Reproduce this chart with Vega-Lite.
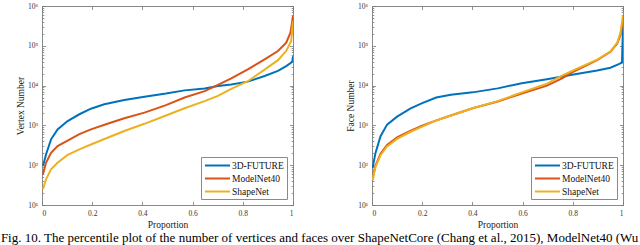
{
  "$schema": "https://vega.github.io/schema/vega-lite/v6.json",
  "background": "white",
  "padding": {"left": 0, "top": 1, "right": 0, "bottom": 0},
  "datasets": {
    "vertex": [
      {"p": 0.004, "v": 95, "s": "3D-FUTURE"}, {"p": 0.016, "v": 186, "s": "3D-FUTURE"}, {"p": 0.036, "v": 447, "s": "3D-FUTURE"}, {"p": 0.062, "v": 794, "s": "3D-FUTURE"}, {"p": 0.102, "v": 1288, "s": "3D-FUTURE"}, {"p": 0.149, "v": 1905, "s": "3D-FUTURE"}, {"p": 0.195, "v": 2630, "s": "3D-FUTURE"}, {"p": 0.248, "v": 3388, "s": "3D-FUTURE"}, {"p": 0.328, "v": 4365, "s": "3D-FUTURE"}, {"p": 0.408, "v": 5248, "s": "3D-FUTURE"}, {"p": 0.494, "v": 6310, "s": "3D-FUTURE"}, {"p": 0.568, "v": 7586, "s": "3D-FUTURE"}, {"p": 0.648, "v": 8511, "s": "3D-FUTURE"}, {"p": 0.701, "v": 9772, "s": "3D-FUTURE"}, {"p": 0.754, "v": 10715, "s": "3D-FUTURE"}, {"p": 0.82, "v": 12589, "s": "3D-FUTURE"}, {"p": 0.887, "v": 17378, "s": "3D-FUTURE"}, {"p": 0.94, "v": 23442, "s": "3D-FUTURE"}, {"p": 0.973, "v": 30903, "s": "3D-FUTURE"}, {"p": 0.993, "v": 38019, "s": "3D-FUTURE"}, {"p": 0.998, "v": 42000, "s": "3D-FUTURE"}, {"p": 1.0, "v": 54954, "s": "3D-FUTURE"},
      {"p": 0.004, "v": 59, "s": "ModelNet40"}, {"p": 0.016, "v": 115, "s": "ModelNet40"}, {"p": 0.036, "v": 204, "s": "ModelNet40"}, {"p": 0.062, "v": 302, "s": "ModelNet40"}, {"p": 0.102, "v": 417, "s": "ModelNet40"}, {"p": 0.149, "v": 603, "s": "ModelNet40"}, {"p": 0.195, "v": 794, "s": "ModelNet40"}, {"p": 0.261, "v": 1096, "s": "ModelNet40"}, {"p": 0.328, "v": 1514, "s": "ModelNet40"}, {"p": 0.408, "v": 2089, "s": "ModelNet40"}, {"p": 0.494, "v": 3236, "s": "ModelNet40"}, {"p": 0.568, "v": 5012, "s": "ModelNet40"}, {"p": 0.648, "v": 7244, "s": "ModelNet40"}, {"p": 0.701, "v": 10471, "s": "ModelNet40"}, {"p": 0.754, "v": 15136, "s": "ModelNet40"}, {"p": 0.82, "v": 25704, "s": "ModelNet40"}, {"p": 0.887, "v": 45709, "s": "ModelNet40"}, {"p": 0.94, "v": 74131, "s": "ModelNet40"}, {"p": 0.973, "v": 120226, "s": "ModelNet40"}, {"p": 0.99, "v": 213796, "s": "ModelNet40"}, {"p": 1.0, "v": 562341, "s": "ModelNet40"},
      {"p": 0.004, "v": 25, "s": "ShapeNet"}, {"p": 0.016, "v": 44, "s": "ShapeNet"}, {"p": 0.036, "v": 79, "s": "ShapeNet"}, {"p": 0.062, "v": 115, "s": "ShapeNet"}, {"p": 0.102, "v": 182, "s": "ShapeNet"}, {"p": 0.149, "v": 251, "s": "ShapeNet"}, {"p": 0.195, "v": 331, "s": "ShapeNet"}, {"p": 0.261, "v": 490, "s": "ShapeNet"}, {"p": 0.328, "v": 724, "s": "ShapeNet"}, {"p": 0.408, "v": 1096, "s": "ShapeNet"}, {"p": 0.494, "v": 1778, "s": "ShapeNet"}, {"p": 0.568, "v": 2692, "s": "ShapeNet"}, {"p": 0.648, "v": 4074, "s": "ShapeNet"}, {"p": 0.701, "v": 5495, "s": "ShapeNet"}, {"p": 0.754, "v": 8318, "s": "ShapeNet"}, {"p": 0.82, "v": 12882, "s": "ShapeNet"}, {"p": 0.887, "v": 25119, "s": "ShapeNet"}, {"p": 0.94, "v": 43652, "s": "ShapeNet"}, {"p": 0.973, "v": 74131, "s": "ShapeNet"}, {"p": 0.993, "v": 131826, "s": "ShapeNet"}, {"p": 1.0, "v": 416869, "s": "ShapeNet"}
    ],
    "face": [
      {"p": 0.002, "v": 85, "s": "3D-FUTURE"}, {"p": 0.014, "v": 204, "s": "3D-FUTURE"}, {"p": 0.034, "v": 537, "s": "3D-FUTURE"}, {"p": 0.06, "v": 1047, "s": "3D-FUTURE"}, {"p": 0.1, "v": 1660, "s": "3D-FUTURE"}, {"p": 0.154, "v": 2692, "s": "3D-FUTURE"}, {"p": 0.2, "v": 3631, "s": "3D-FUTURE"}, {"p": 0.256, "v": 5012, "s": "3D-FUTURE"}, {"p": 0.314, "v": 5888, "s": "3D-FUTURE"}, {"p": 0.401, "v": 6761, "s": "3D-FUTURE"}, {"p": 0.501, "v": 8511, "s": "3D-FUTURE"}, {"p": 0.597, "v": 11482, "s": "3D-FUTURE"}, {"p": 0.697, "v": 14454, "s": "3D-FUTURE"}, {"p": 0.797, "v": 18621, "s": "3D-FUTURE"}, {"p": 0.897, "v": 23988, "s": "3D-FUTURE"}, {"p": 0.95, "v": 28184, "s": "3D-FUTURE"}, {"p": 0.983, "v": 34674, "s": "3D-FUTURE"}, {"p": 0.996, "v": 38019, "s": "3D-FUTURE"}, {"p": 1.0, "v": 301995, "s": "3D-FUTURE"},
      {"p": 0.002, "v": 44, "s": "ModelNet40"}, {"p": 0.014, "v": 98, "s": "ModelNet40"}, {"p": 0.034, "v": 195, "s": "ModelNet40"}, {"p": 0.06, "v": 324, "s": "ModelNet40"}, {"p": 0.1, "v": 501, "s": "ModelNet40"}, {"p": 0.154, "v": 741, "s": "ModelNet40"}, {"p": 0.2, "v": 977, "s": "ModelNet40"}, {"p": 0.254, "v": 1318, "s": "ModelNet40"}, {"p": 0.314, "v": 1778, "s": "ModelNet40"}, {"p": 0.401, "v": 2692, "s": "ModelNet40"}, {"p": 0.501, "v": 3981, "s": "ModelNet40"}, {"p": 0.597, "v": 6310, "s": "ModelNet40"}, {"p": 0.697, "v": 10000, "s": "ModelNet40"}, {"p": 0.757, "v": 15136, "s": "ModelNet40"}, {"p": 0.797, "v": 21380, "s": "ModelNet40"}, {"p": 0.897, "v": 43652, "s": "ModelNet40"}, {"p": 0.95, "v": 70795, "s": "ModelNet40"}, {"p": 0.977, "v": 114815, "s": "ModelNet40"}, {"p": 0.99, "v": 186209, "s": "ModelNet40"}, {"p": 1.0, "v": 436516, "s": "ModelNet40"},
      {"p": 0.002, "v": 42, "s": "ShapeNet"}, {"p": 0.014, "v": 91, "s": "ShapeNet"}, {"p": 0.034, "v": 178, "s": "ShapeNet"}, {"p": 0.06, "v": 295, "s": "ShapeNet"}, {"p": 0.1, "v": 457, "s": "ShapeNet"}, {"p": 0.154, "v": 692, "s": "ShapeNet"}, {"p": 0.2, "v": 933, "s": "ShapeNet"}, {"p": 0.254, "v": 1318, "s": "ShapeNet"}, {"p": 0.314, "v": 1778, "s": "ShapeNet"}, {"p": 0.401, "v": 2692, "s": "ShapeNet"}, {"p": 0.501, "v": 4074, "s": "ShapeNet"}, {"p": 0.597, "v": 6761, "s": "ShapeNet"}, {"p": 0.697, "v": 11220, "s": "ShapeNet"}, {"p": 0.757, "v": 17783, "s": "ShapeNet"}, {"p": 0.797, "v": 23442, "s": "ShapeNet"}, {"p": 0.897, "v": 44668, "s": "ShapeNet"}, {"p": 0.95, "v": 72444, "s": "ShapeNet"}, {"p": 0.977, "v": 120226, "s": "ShapeNet"}, {"p": 0.99, "v": 213796, "s": "ShapeNet"}, {"p": 1.0, "v": 588844, "s": "ShapeNet"}
    ]
  },
  "title": {
    "text": "Fig. 10. The percentile plot of the number of vertices and faces over ShapeNetCore (Chang et al., 2015), ModelNet40 (Wu",
    "orient": "bottom", "anchor": "start", "font": "Liberation Serif", "fontSize": 13, "fontWeight": "normal", "color": "#000", "offset": 3, "dx": -14
  },
  "spacing": 47,
  "hconcat": [
    {
      "data": {"name": "vertex"},
      "width": 251, "height": 199,
      "layer": [
        {
          "mark": {"type": "line", "strokeWidth": 2, "clip": true},
          "encoding": {
            "x": {"field": "p", "type": "quantitative", "scale": {"domain": [0, 1], "nice": false}, "axis": {"orient": "bottom", "values": [0, 0.2, 0.4, 0.6, 0.8, 1], "format": "~g", "title": "Proportion"}},
            "y": {"field": "v", "type": "quantitative", "scale": {"type": "log", "domain": [10, 1000000], "nice": false}, "axis": {"orient": "left", "values": [10, 100, 1000, 10000, 100000, 1000000], "labelExpr": "'10' + ['⁰','¹','²','³','⁴','⁵','⁶'][round(log(datum.value)/LN10)]", "title": "Vertex Number"}},
            "color": {"field": "s", "type": "nominal", "scale": {"domain": ["3D-FUTURE", "ModelNet40", "ShapeNet"], "range": ["#0072BD", "#D95319", "#EDB120"]}, "legend": {"title": null}}
          }
        },
        {
          "mark": {"type": "point", "opacity": 0},
          "encoding": {
            "x": {"field": "p", "type": "quantitative", "axis": {"orient": "top", "values": [0, 0.2, 0.4, 0.6, 0.8, 1], "labels": false, "title": null}},
            "y": {"field": "v", "type": "quantitative", "axis": {"orient": "right", "values": [10, 100, 1000, 10000, 100000, 1000000], "labels": false, "title": null}}
          }
        },
        {
          "mark": {"type": "point", "opacity": 0},
          "encoding": {
            "x": {"field": "p", "type": "quantitative", "axis": null},
            "y": {"field": "v", "type": "quantitative", "axis": {"orient": "left", "values": [20,30,40,50,60,70,80,90,200,300,400,500,600,700,800,900,2000,3000,4000,5000,6000,7000,8000,9000,20000,30000,40000,50000,60000,70000,80000,90000,200000,300000,400000,500000,600000,700000,800000,900000], "labels": false, "title": null, "tickSize": -1.8}}
          }
        },
        {
          "mark": {"type": "point", "opacity": 0},
          "encoding": {
            "x": {"field": "p", "type": "quantitative", "axis": null},
            "y": {"field": "v", "type": "quantitative", "axis": {"orient": "right", "values": [20,30,40,50,60,70,80,90,200,300,400,500,600,700,800,900,2000,3000,4000,5000,6000,7000,8000,9000,20000,30000,40000,50000,60000,70000,80000,90000,200000,300000,400000,500000,600000,700000,800000,900000], "labels": false, "title": null, "tickSize": -1.8}}
          }
        }
      ],
      "resolve": {"axis": {"x": "independent", "y": "independent"}}
    },
    {
      "data": {"name": "face"},
      "width": 251, "height": 199,
      "layer": [
        {
          "mark": {"type": "line", "strokeWidth": 2, "clip": true},
          "encoding": {
            "x": {"field": "p", "type": "quantitative", "scale": {"domain": [0, 1], "nice": false}, "axis": {"orient": "bottom", "values": [0, 0.2, 0.4, 0.6, 0.8, 1], "format": "~g", "title": "Proportion"}},
            "y": {"field": "v", "type": "quantitative", "scale": {"type": "log", "domain": [10, 1000000], "nice": false}, "axis": {"orient": "left", "values": [10, 100, 1000, 10000, 100000, 1000000], "labelExpr": "'10' + ['⁰','¹','²','³','⁴','⁵','⁶'][round(log(datum.value)/LN10)]", "title": "Face Number"}},
            "color": {"field": "s", "type": "nominal", "scale": {"domain": ["3D-FUTURE", "ModelNet40", "ShapeNet"], "range": ["#0072BD", "#D95319", "#EDB120"]}, "legend": {"title": null}}
          }
        },
        {
          "mark": {"type": "point", "opacity": 0},
          "encoding": {
            "x": {"field": "p", "type": "quantitative", "axis": {"orient": "top", "values": [0, 0.2, 0.4, 0.6, 0.8, 1], "labels": false, "title": null}},
            "y": {"field": "v", "type": "quantitative", "axis": {"orient": "right", "values": [10, 100, 1000, 10000, 100000, 1000000], "labels": false, "title": null}}
          }
        },
        {
          "mark": {"type": "point", "opacity": 0},
          "encoding": {
            "x": {"field": "p", "type": "quantitative", "axis": null},
            "y": {"field": "v", "type": "quantitative", "axis": {"orient": "left", "values": [20,30,40,50,60,70,80,90,200,300,400,500,600,700,800,900,2000,3000,4000,5000,6000,7000,8000,9000,20000,30000,40000,50000,60000,70000,80000,90000,200000,300000,400000,500000,600000,700000,800000,900000], "labels": false, "title": null, "tickSize": -1.8}}
          }
        },
        {
          "mark": {"type": "point", "opacity": 0},
          "encoding": {
            "x": {"field": "p", "type": "quantitative", "axis": null},
            "y": {"field": "v", "type": "quantitative", "axis": {"orient": "right", "values": [20,30,40,50,60,70,80,90,200,300,400,500,600,700,800,900,2000,3000,4000,5000,6000,7000,8000,9000,20000,30000,40000,50000,60000,70000,80000,90000,200000,300000,400000,500000,600000,700000,800000,900000], "labels": false, "title": null, "tickSize": -1.8}}
          }
        }
      ],
      "resolve": {"axis": {"x": "independent", "y": "independent"}}
    }
  ],
  "resolve": {"scale": {"x": "independent", "y": "independent", "color": "independent"}, "legend": {"color": "independent"}},
  "config": {
    "view": {"stroke": "#8a8a8a", "strokeWidth": 1},
    "axis": {
      "domain": false, "grid": false, "tickSize": -3.5, "tickColor": "#777", "tickWidth": 0.8,
      "labelFont": "Liberation Serif", "labelFontSize": 7.5, "labelColor": "#333", "labelPadding": 8,
      "titleFont": "Liberation Serif", "titleFontSize": 9.5, "titleFontWeight": "normal", "titleColor": "#222", "titlePadding": 2
    },
    "legend": {
      "orient": "bottom-right", "offset": 6, "symbolType": "M-3,0H3", "symbolSize": 70, "symbolOffset": 8, "symbolStrokeWidth": 2,
      "labelFont": "Liberation Serif", "labelFontSize": 9.5, "labelColor": "#111", "strokeColor": "#8a8a8a", "fillColor": "white",
      "padding": 3, "rowPadding": 3, "labelOffset": 9
    }
  }
}
